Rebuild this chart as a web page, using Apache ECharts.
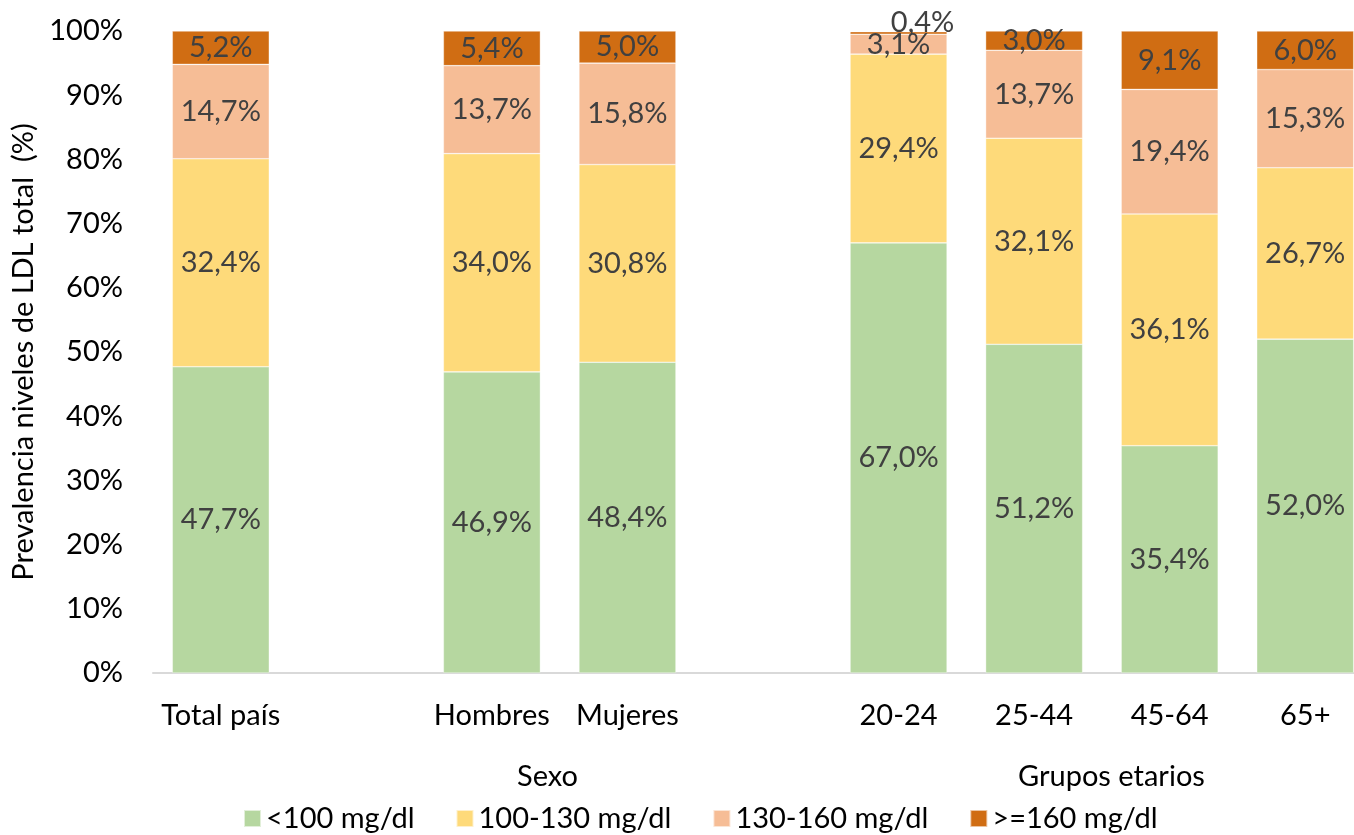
<!DOCTYPE html>
<html><head><meta charset="utf-8">
<script src="https://cdn.jsdelivr.net/npm/echarts@6/dist/echarts.min.js"></script>
<style>html,body{margin:0;padding:0;background:#fff;overflow:hidden}#c{width:1373px;height:835px}</style>
</head><body><div id="c"></div>
<script>
const categories = ['Total país', '', 'Hombres', 'Mujeres', '', '20-24', '25-44', '45-64', '65+'];
const seriesNames = ['<100 mg/dl', '100-130 mg/dl', '130-160 mg/dl', '>=160 mg/dl'];
const lt100 = [47.7, null, 46.9, 48.4, null, 67.0, 51.2, 35.4, 52.0];
const r100_130 = [32.4, null, 34.0, 30.8, null, 29.4, 32.1, 36.1, 26.7];
const r130_160 = [14.7, null, 13.7, 15.8, null, 3.1, 13.7, 19.4, 15.3];
const ge160 = [5.2, null, 5.4, 5.0, null, 0.4, 3.0, 9.1, 6.0];
const yTicks = [0, 10, 20, 30, 40, 50, 60, 70, 80, 90, 100];
const groupLabels = ['Sexo', 'Grupos etarios'];
const colors = ['#B6D7A0', '#FEDA7A', '#F6BD96', '#D06D13'];
const FONT = 'Lato';
const FS = 29;

const fmt = v => v.toFixed(1).replace('.', ',') + '%';
const allData = [lt100, r100_130, r130_160, ge160];

const series = allData.map((arr, i) => ({
  name: seriesNames[i],
  type: 'bar',
  stack: 'total',
  barWidth: 97,
  itemStyle: { color: colors[i], borderColor: 'rgba(255,255,255,0.6)', borderWidth: 0.6 },
  label: {
    show: true, position: 'inside', color: '#404040', fontFamily: FONT, fontSize: FS,
    formatter: p => (p.value == null ? '' : fmt(p.value))
  },
  data: arr.map((v, j) => {
    if (v == null) return '-';
    if (i === 3 && categories[j] === '20-24') {
      return { value: v, label: { position: 'top', offset: [24, 10] } };
    }
    return v;
  })
}));

const chart = echarts.init(document.getElementById('c'));
chart.setOption({
  animation: false,
  textStyle: { fontFamily: FONT },
  grid: { left: 153, right: 0, top: 31, bottom: 162, containLabel: false },
  xAxis: {
    type: 'category', data: categories,
    axisLine: { lineStyle: { color: '#D9D9D9', width: 2 } },
    axisTick: { show: false },
    axisLabel: { color: '#000', fontFamily: FONT, fontSize: FS, margin: 28, interval: 0 }
  },
  yAxis: {
    type: 'value', min: 0, max: 100, interval: 10,
    name: 'Prevalencia niveles de LDL total  (%)',
    nameLocation: 'middle', nameGap: 106, nameRotate: 90,
    nameTextStyle: { color: '#000', fontFamily: FONT, fontSize: FS },
    axisLine: { show: false }, axisTick: { show: false }, splitLine: { show: false },
    axisLabel: { color: '#000', fontFamily: FONT, fontSize: FS, margin: 30,
      formatter: v => yTicks.includes(v) ? v + '%' : '' }
  },
  legend: {
    bottom: -3, left: 238, itemWidth: 17, itemHeight: 17, itemGap: 41, icon: 'rect',
    textStyle: { color: '#000', fontFamily: FONT, fontSize: FS },
    data: seriesNames
  },
  graphic: [
    { type: 'text', left: 517, top: 762, style: { text: groupLabels[0], fill: '#000', font: FS + 'px ' + FONT } },
    { type: 'text', left: 1018, top: 762, style: { text: groupLabels[1], fill: '#000', font: FS + 'px ' + FONT } }
  ],
  series
});
</script></body></html>
